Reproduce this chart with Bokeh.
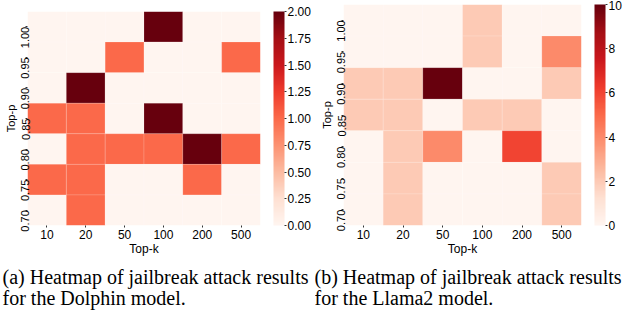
import math
from bokeh.plotting import figure
from bokeh.models import (ColumnDataSource, LinearColorMapper, ColorBar, FixedTicker,
                          PrintfTickFormatter, Title, FactorRange)
from bokeh.layouts import row
from bokeh.palettes import Reds256
from bokeh.embed import file_html
from bokeh.resources import INLINE

# ---- data -------------------------------------------------------------
top_k = ["10", "20", "50", "100", "200", "500"]
top_p = ["1.00", "0.95", "0.90", "0.85", "0.80", "0.75", "0.70"]  # top to bottom

dolphin = [
    [0, 0, 0, 2, 0, 0],  # 1.00
    [0, 0, 1, 0, 0, 1],  # 0.95
    [0, 2, 0, 0, 0, 0],  # 0.90
    [1, 1, 0, 2, 0, 0],  # 0.85
    [0, 1, 1, 1, 2, 1],  # 0.80
    [1, 1, 0, 0, 1, 0],  # 0.75
    [0, 1, 0, 0, 0, 0],  # 0.70
]
llama2 = [
    [0, 0, 0, 2, 0, 0],   # 1.00
    [0, 0, 0, 2, 0, 4],   # 0.95
    [2, 2, 10, 0, 0, 2],  # 0.90
    [2, 2, 0, 2, 2, 0],   # 0.85
    [0, 2, 4, 0, 6, 0],   # 0.80
    [0, 2, 0, 0, 0, 2],   # 0.75
    [0, 2, 0, 0, 0, 2],   # 0.70
]
dolphin_ticks = [0, 0.25, 0.5, 0.75, 1.0, 1.25, 1.5, 1.75, 2.0]
llama2_ticks = [0, 2, 4, 6, 8, 10]
caption_a = ["(a) Heatmap of jailbreak attack results", "for the Dolphin model."]
caption_b = ["(b) Heatmap of jailbreak attack results", "for the Llama2 model."]

palette = list(reversed(Reds256))
SANS = "Liberation Sans"
SERIF = "Liberation Serif"


def make_panel(values, high, ticks, fmt, caption, size, borders, cap_offset):
    xs, ys, vs = [], [], []
    for i, p in enumerate(top_p):
        for j, k in enumerate(top_k):
            xs.append(k)
            ys.append(p)
            vs.append(values[i][j])
    src = ColumnDataSource(dict(k=xs, p=ys, v=vs))
    mapper = LinearColorMapper(palette=palette, low=0, high=high)

    w, h = size
    left, right, top, bottom = borders
    fig = figure(width=w, height=h, title=None,
                 output_backend="svg", toolbar_location=None,
                 x_range=FactorRange(factors=top_k),
                 y_range=FactorRange(factors=list(reversed(top_p))),
                 min_border_left=left, min_border_right=right,
                 min_border_top=top, min_border_bottom=bottom,
                 frame_align=False,
                 outline_line_color=None, background_fill_color="white",
                 border_fill_color="white")
    fig.rect(x="k", y="p", width=1, height=1, source=src,
             fill_color={"field": "v", "transform": mapper},
             line_color="white", line_alpha=0.3, line_width=0.5)

    fig.xgrid.grid_line_color = None
    fig.ygrid.grid_line_color = None
    for ax in (fig.xaxis[0], fig.yaxis[0]):
        ax.axis_line_color = None
        ax.major_tick_in = 0
        ax.major_tick_out = 2
        ax.major_tick_line_color = "#333333"
        ax.minor_tick_line_color = None
        ax.major_label_text_font = SANS
        ax.major_label_text_color = "black"
        ax.major_label_standoff = 0
        ax.axis_label_text_font = SANS
        ax.axis_label_text_font_style = "normal"
        ax.axis_label_text_color = "black"
        ax.axis_label_standoff = 0
    fig.xaxis.major_label_text_font_size = "12px"
    fig.xaxis.axis_label_text_font_size = "12px"
    fig.xaxis.major_label_standoff = 2
    fig.yaxis.major_label_text_font_size = "11px"
    fig.yaxis.axis_label_text_font_size = "11px"
    fig.yaxis.axis_label_standoff = -2
    fig.xaxis.axis_label = "Top-k"
    fig.yaxis.axis_label = "Top-p"
    fig.yaxis.major_label_orientation = math.pi / 2

    cb = ColorBar(color_mapper=mapper, ticker=FixedTicker(ticks=ticks), formatter=fmt,
                  width=11, padding=0, margin=0, location=(13, 0), bar_line_color=None,
                  major_tick_in=0, major_tick_out=2, major_tick_line_color="#333333",
                  minor_tick_line_color=None,
                  major_label_text_font=SANS, major_label_text_font_size="12px",
                  major_label_text_color="black", label_standoff=1,
                  background_fill_color=None, border_line_color=None)
    fig.add_layout(cb, "right")

    fig.add_layout(Title(text="\n".join(caption), align="left", offset=cap_offset,
                         text_font=SERIF, text_font_size="20px",
                         text_font_style="normal", text_color="black",
                         text_line_height=0.95, standoff=11), "below")
    return fig


p1 = make_panel(dolphin, 2, dolphin_ticks, PrintfTickFormatter(format="%.2f"), caption_a,
                (315, 314), (27, 55, 11, 86), -25)
p2 = make_panel(llama2, 10, llama2_ticks, PrintfTickFormatter(format="%d"), caption_b,
                (309, 314), (28, 42, 4, 86), -29)

layout = row(p1, p2)

with open("out.html", "w") as f:
    f.write(file_html(layout, INLINE))
